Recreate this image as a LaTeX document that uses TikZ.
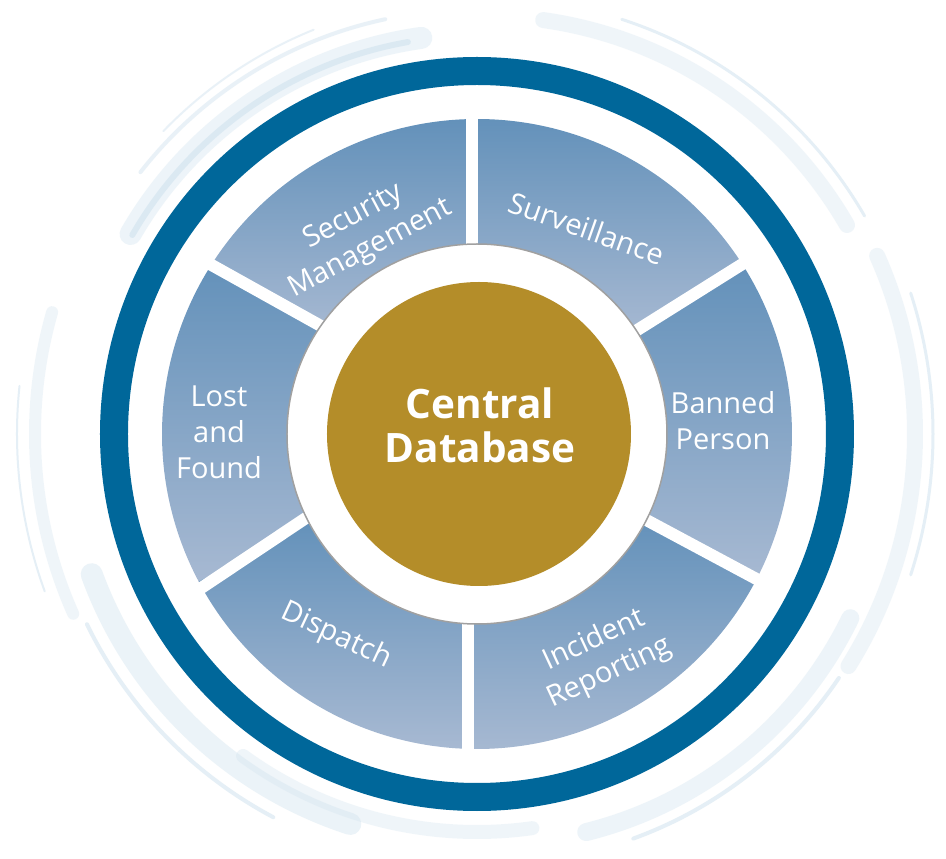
\documentclass[tikz,border=0pt]{standalone}
\usepackage{fontspec}
\setmainfont{Open Sans}
\usetikzlibrary{calc}
\definecolor{ringblue}{RGB}{0,103,154}
\definecolor{segtop}{RGB}{99,145,186}
\definecolor{segbot}{RGB}{167,185,210}
\definecolor{gold}{RGB}{180,141,41}
\definecolor{swirl}{RGB}{212,229,240}
\definecolor{diskedge}{RGB}{160,160,160}
\begin{document}
\begin{tikzpicture}[x=1pt,y=1pt,
  seg/.style={top color=segtop,bottom color=segbot},
  gapline/.style={white,line width=12pt},
  lab/.style={text=white,font=\fontsize{29}{36}\selectfont,align=center,inner sep=0pt},
  sw/.style={draw=swirl,line cap=round}]
\useasboundingbox (-477,-425) rectangle (469,434);
\fill[white] (-477,-425) rectangle (469,434);
% background swirls (soft brush strokes)
\draw[sw,line width=22pt,opacity=.4] (98:400pt) arc[start angle=98,end angle=150,radius=400pt];
\draw[sw,line width=6pt,opacity=.7] (100:398pt) arc[start angle=100,end angle=150,radius=398pt];
\draw[sw,line width=4pt,opacity=.5] ([shift={(-4,2)}]102:422pt) arc[start angle=102,end angle=142,radius=422pt];
\draw[sw,line width=2pt,opacity=.5] (112:436pt) arc[start angle=112,end angle=136,radius=436pt];
\draw[sw,line width=16pt,opacity=.35] ([shift={(8,0)}]30:418pt) arc[start angle=30,end angle=82,radius=418pt];
\draw[sw,line width=3pt,opacity=.6] ([shift={(10,0)}]30:436pt) arc[start angle=30,end angle=72,radius=436pt];
\draw[sw,line width=16pt,opacity=.35] (-32:438pt) arc[start angle=-32,end angle=24,radius=438pt];
\draw[sw,line width=3pt,opacity=.6] (-18:456pt) arc[start angle=-18,end angle=18,radius=456pt];
\draw[sw,line width=18pt,opacity=.4] ([shift={(12,-8)}]-76:402pt) arc[start angle=-76,end angle=-26,radius=402pt];
\draw[sw,line width=4pt,opacity=.6] ([shift={(12,-8)}]-70:422pt) arc[start angle=-70,end angle=-34,radius=422pt];
\draw[sw,line width=14pt,opacity=.35] (-126:398pt) arc[start angle=-126,end angle=-82,radius=398pt];
\draw[sw,line width=22pt,opacity=.45] (200:410pt) arc[start angle=200,end angle=252,radius=410pt];
\draw[sw,line width=4pt,opacity=.6] (206:434pt) arc[start angle=206,end angle=242,radius=434pt];
\draw[sw,line width=12pt,opacity=.35] (164:442pt) arc[start angle=164,end angle=204,radius=442pt];
\draw[sw,line width=2pt,opacity=.6] (174:460pt) arc[start angle=174,end angle=200,radius=460pt];
% outer ring
\fill[ringblue,even odd rule] (0,0) circle[radius=377pt] (0,0) circle[radius=349pt];
% segments
\shade[seg] (32.7:315pt) arc[start angle=32.7,end angle=91,radius=315pt] -- (91:180pt) arc[start angle=91,end angle=32.7,radius=180pt] -- cycle;
\shade[seg] (91:315pt) arc[start angle=91,end angle=146.8,radius=315pt] -- (146.8:180pt) arc[start angle=146.8,end angle=91,radius=180pt] -- cycle;
\shade[seg] (146.8:315pt) arc[start angle=146.8,end angle=207.9,radius=315pt] -- (207.9:180pt) arc[start angle=207.9,end angle=146.8,radius=180pt] -- cycle;
\shade[seg] (207.9:315pt) arc[start angle=207.9,end angle=268.1,radius=315pt] -- (268.1:180pt) arc[start angle=268.1,end angle=207.9,radius=180pt] -- cycle;
\shade[seg] (268.1:315pt) arc[start angle=268.1,end angle=332.8,radius=315pt] -- (332.8:180pt) arc[start angle=332.8,end angle=268.1,radius=180pt] -- cycle;
\shade[seg] (-27.2:315pt) arc[start angle=-27.2,end angle=32.7,radius=315pt] -- (32.7:180pt) arc[start angle=32.7,end angle=-27.2,radius=180pt] -- cycle;
% gaps
\coordinate (g1a) at (-5,335);   \coordinate (g1b) at (-5,150);
\coordinate (g2a) at (262.3,168); \coordinate (g2b) at (163,105.7);
\coordinate (g3a) at (276.3,-143.3); \coordinate (g3b) at (168,-85.3);
\coordinate (g4a) at (-9,-335);  \coordinate (g4b) at (-9,-150);
\coordinate (g5a) at (-268.7,-149.3); \coordinate (g5b) at (-168,-82);
\coordinate (g6a) at (-261.3,166.7); \coordinate (g6b) at (-156,108);
\draw[gapline] (g1a) -- (g1b);
\draw[gapline] (g4a) -- (g4b);
\draw[gapline] ($(g2a)!-0.15!(g2b)$) -- ($(g2a)!1.4!(g2b)$);
\draw[gapline] ($(g3a)!-0.15!(g3b)$) -- ($(g3a)!1.4!(g3b)$);
\draw[gapline] ($(g5a)!-0.15!(g5b)$) -- ($(g5a)!1.4!(g5b)$);
\draw[gapline] ($(g6a)!-0.15!(g6b)$) -- ($(g6a)!1.4!(g6b)$);
% inner disk
\fill[white] (0,0) circle[radius=190pt];
\draw[diskedge,line width=1.5pt] (0,0) circle[radius=190pt];
\fill[gold] (2,0) circle[radius=152pt];
\node[text=white,font=\bfseries\fontsize{40.5}{44}\selectfont,align=center,inner sep=0pt] (central) at (3,9) {Central\\Database};
% labels
\node[lab,rotate=28] (secm) at (-115,201) {Security\\Management};
\node[lab,rotate=-19.5] (surv) at (109.7,205.7) {Surveillance};
\node[lab] (lost) at (-258,2) {Lost\\and\\Found};
\node[lab] (bann) at (246,13) {Banned\\Person};
\node[lab,rotate=-25] (disp) at (-141,-202) {Dispatch};
\node[lab,rotate=25] (inci) at (125,-222.7) {Incident\\Reporting};
\end{tikzpicture}
\end{document}
